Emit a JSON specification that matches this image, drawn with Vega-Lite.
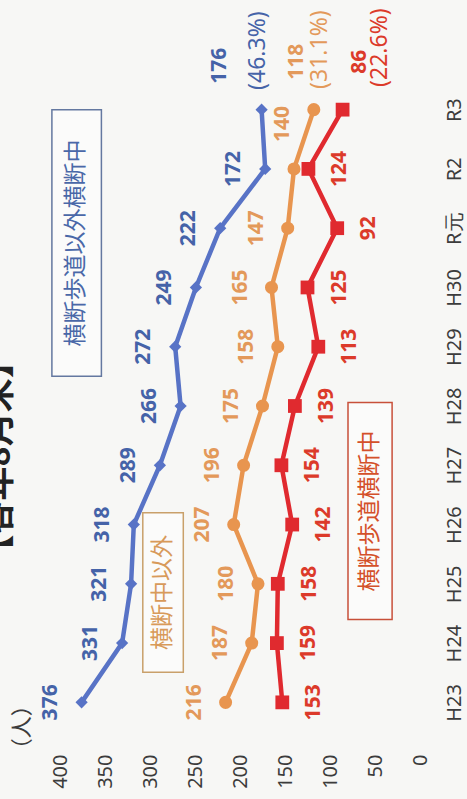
{
  "$schema": "https://vega.github.io/schema/vega-lite/v6.json",
  "width": 360,
  "height": 652,
  "autosize": {"type": "none"},
  "padding": {"left": 60, "top": 80, "right": 47, "bottom": 67},
  "background": "#f7f7f5",
  "config": {"view": {"stroke": null}, "font": "Noto Sans", "axis": {"labelFont": "Noto Sans"}},
  "datasets": {
    "counts": [
      {"year": "H23", "series": "横断歩道以外横断中", "value": 376},
      {"year": "H24", "series": "横断歩道以外横断中", "value": 331},
      {"year": "H25", "series": "横断歩道以外横断中", "value": 321},
      {"year": "H26", "series": "横断歩道以外横断中", "value": 318},
      {"year": "H27", "series": "横断歩道以外横断中", "value": 289},
      {"year": "H28", "series": "横断歩道以外横断中", "value": 266},
      {"year": "H29", "series": "横断歩道以外横断中", "value": 272},
      {"year": "H30", "series": "横断歩道以外横断中", "value": 249},
      {"year": "R元", "series": "横断歩道以外横断中", "value": 222},
      {"year": "R2", "series": "横断歩道以外横断中", "value": 172},
      {"year": "R3", "series": "横断歩道以外横断中", "value": 176, "share": "(46.3%)"},
      {"year": "H23", "series": "横断中以外", "value": 216},
      {"year": "H24", "series": "横断中以外", "value": 187},
      {"year": "H25", "series": "横断中以外", "value": 180},
      {"year": "H26", "series": "横断中以外", "value": 207},
      {"year": "H27", "series": "横断中以外", "value": 196},
      {"year": "H28", "series": "横断中以外", "value": 175},
      {"year": "H29", "series": "横断中以外", "value": 158},
      {"year": "H30", "series": "横断中以外", "value": 165},
      {"year": "R元", "series": "横断中以外", "value": 147},
      {"year": "R2", "series": "横断中以外", "value": 140},
      {"year": "R3", "series": "横断中以外", "value": 118, "share": "(31.1%)"},
      {"year": "H23", "series": "横断歩道横断中", "value": 153},
      {"year": "H24", "series": "横断歩道横断中", "value": 159},
      {"year": "H25", "series": "横断歩道横断中", "value": 158},
      {"year": "H26", "series": "横断歩道横断中", "value": 142},
      {"year": "H27", "series": "横断歩道横断中", "value": 154},
      {"year": "H28", "series": "横断歩道横断中", "value": 139},
      {"year": "H29", "series": "横断歩道横断中", "value": 113},
      {"year": "H30", "series": "横断歩道横断中", "value": 125},
      {"year": "R元", "series": "横断歩道横断中", "value": 92},
      {"year": "R2", "series": "横断歩道横断中", "value": 124},
      {"year": "R3", "series": "横断歩道横断中", "value": 86, "share": "(22.6%)"}
    ],
    "notes": [
      {"note": "横断歩道以外横断中", "series": "横断歩道以外横断中", "left": 409, "right": 354, "top": 10.0, "bottom": 5.5, "cx": 382, "cy": 7.75},
      {"note": "横断中以外", "series": "横断中以外", "left": 308, "right": 263, "top": 3.2, "bottom": 0.51, "cx": 285.5, "cy": 1.855},
      {"note": "横断歩道横断中", "series": "横断歩道横断中", "left": 80, "right": 31, "top": 5.06, "bottom": 1.4, "cx": 55.5, "cy": 3.23}
    ]
  },
  "layer": [
    {
      "data": {"name": "counts"},
      "encoding": {
        "y": {
          "field": "year", "type": "ordinal",
          "scale": {"type": "point", "padding": 0.5, "domain": ["R3", "R2", "R元", "H30", "H29", "H28", "H27", "H26", "H25", "H24", "H23"]},
          "axis": {"orient": "right", "title": null, "domain": false, "ticks": false, "grid": false, "labelAngle": 270, "labelAlign": "center", "labelBaseline": "middle", "labelPadding": 34, "labelFontSize": 20, "labelColor": "#3c3c3c"}
        },
        "x": {
          "field": "value", "type": "quantitative",
          "scale": {"domain": [0, 400], "reverse": true, "nice": false},
          "axis": {"title": null, "values": [0, 50, 100, 150, 200, 250, 300, 350, 400], "domain": false, "ticks": false, "grid": false, "labelAngle": 270, "labelAlign": "right", "labelBaseline": "middle", "labelPadding": 22, "labelFlush": false, "labelOverlap": false, "labelFontSize": 20, "labelColor": "#3c3c3c"}
        }
      },
      "layer": [
        {
          "mark": {"type": "line", "strokeWidth": 4.5},
          "encoding": {
            "color": {"field": "series", "type": "nominal", "legend": null,
              "scale": {"domain": ["横断歩道以外横断中", "横断中以外", "横断歩道横断中"], "range": ["#5873c6", "#e8954f", "#e02a2f"]}},
            "detail": {"field": "series"}
          }
        },
        {
          "mark": {"type": "point", "filled": true, "opacity": 1},
          "encoding": {
            "color": {"field": "series", "type": "nominal", "legend": null},
            "shape": {"field": "series", "type": "nominal", "legend": null,
              "scale": {"domain": ["横断歩道以外横断中", "横断中以外", "横断歩道横断中"], "range": ["diamond", "circle", "square"]}},
            "size": {"field": "series", "type": "nominal", "legend": null,
              "scale": {"domain": ["横断歩道以外横断中", "横断中以外", "横断歩道横断中"], "range": [150, 190, 200]}}
          }
        },
        {
          "transform": [{"filter": "datum.series === '横断歩道以外横断中' && datum.year !== 'R3'"}],
          "mark": {"type": "text", "angle": 270, "align": "center", "baseline": "middle", "dy": -31, "fontSize": 21, "fontWeight": "bold", "color": "#4563a8"},
          "encoding": {"text": {"field": "value"}}
        },
        {
          "transform": [{"filter": "datum.series === '横断中以外' && datum.year !== 'R3' && datum.year !== 'R2'"}],
          "mark": {"type": "text", "angle": 270, "align": "center", "baseline": "middle", "dy": -31, "fontSize": 21, "fontWeight": "bold", "color": "#e3995a"},
          "encoding": {"text": {"field": "value"}}
        },
        {
          "transform": [{"filter": "datum.series === '横断中以外' && datum.year === 'R2'"}],
          "mark": {"type": "text", "angle": 270, "align": "center", "baseline": "middle", "dx": 45, "dy": -11, "fontSize": 21, "fontWeight": "bold", "color": "#e3995a"},
          "encoding": {"text": {"field": "value"}}
        },
        {
          "transform": [{"filter": "datum.series === '横断歩道横断中' && datum.year !== 'R3'"}],
          "mark": {"type": "text", "angle": 270, "align": "center", "baseline": "middle", "dy": 32, "fontSize": 21, "fontWeight": "bold", "color": "#dc3a2a"},
          "encoding": {"text": {"field": "value"}}
        },
        {
          "transform": [{"filter": "datum.series === '横断歩道以外横断中' && datum.year === 'R3'"}],
          "mark": {"type": "text", "angle": 270, "align": "center", "baseline": "middle", "dx": 44, "dy": -42, "fontSize": 21, "fontWeight": "bold", "color": "#4563a8"},
          "encoding": {"text": {"field": "value"}}
        },
        {
          "transform": [{"filter": "datum.series === '横断歩道以外横断中' && datum.year === 'R3'"}],
          "mark": {"type": "text", "angle": 270, "align": "center", "baseline": "middle", "dx": 59, "dy": -4, "fontSize": 23, "color": "#4563a8"},
          "encoding": {"text": {"field": "share"}}
        },
        {
          "transform": [{"filter": "datum.series === '横断中以外' && datum.year === 'R3'"}],
          "mark": {"type": "text", "angle": 270, "align": "center", "baseline": "middle", "dx": 48, "dy": -17, "fontSize": 21, "fontWeight": "bold", "color": "#e3995a"},
          "encoding": {"text": {"field": "value"}}
        },
        {
          "transform": [{"filter": "datum.series === '横断中以外' && datum.year === 'R3'"}],
          "mark": {"type": "text", "angle": 270, "align": "center", "baseline": "middle", "dx": 60, "dy": 6, "fontSize": 23, "color": "#e3995a"},
          "encoding": {"text": {"field": "share"}}
        },
        {
          "transform": [{"filter": "datum.series === '横断歩道横断中' && datum.year === 'R3'"}],
          "mark": {"type": "text", "angle": 270, "align": "center", "baseline": "middle", "dx": 48, "dy": 17, "fontSize": 21, "fontWeight": "bold", "color": "#dc3a2a"},
          "encoding": {"text": {"field": "value"}}
        },
        {
          "transform": [{"filter": "datum.series === '横断歩道横断中' && datum.year === 'R3'"}],
          "mark": {"type": "text", "angle": 270, "align": "center", "baseline": "middle", "dx": 62, "dy": 37, "fontSize": 23, "color": "#dc3a2a"},
          "encoding": {"text": {"field": "share"}}
        }
      ]
    },
    {
      "data": {"name": "notes"},
      "layer": [
        {
          "mark": {"type": "rect", "fill": "#fbfbfa", "strokeWidth": 1.5},
          "encoding": {
            "x": {"field": "left", "type": "quantitative", "scale": {"domain": [0, 400], "reverse": true, "nice": false}},
            "x2": {"field": "right"},
            "y": {"field": "top", "type": "quantitative", "scale": {"domain": [-0.5, 10.5], "nice": false, "zero": false}, "axis": null},
            "y2": {"field": "bottom"},
            "stroke": {"field": "series", "type": "nominal", "legend": null,
              "scale": {"domain": ["横断歩道以外横断中", "横断中以外", "横断歩道横断中"], "range": ["#6478a0", "#c9a06a", "#c8503a"]}}
          }
        },
        {
          "mark": {"type": "text", "angle": 270, "align": "center", "baseline": "middle", "fontSize": 23, "font": "Noto Sans CJK JP"},
          "encoding": {
            "x": {"field": "cx", "type": "quantitative"},
            "y": {"field": "cy", "type": "quantitative"},
            "text": {"field": "note"},
            "fill": {"field": "series", "type": "nominal", "legend": null,
              "scale": {"domain": ["横断歩道以外横断中", "横断中以外", "横断歩道横断中"], "range": ["#4a68a8", "#d89a5a", "#d4502a"]}}
          }
        },
        {
          "data": {"values": [{"label": "（人）", "at": 442, "pos": -0.42}]},
          "mark": {"type": "text", "angle": 270, "align": "center", "baseline": "middle", "fontSize": 22, "color": "#3c3c3c", "font": "Noto Sans CJK JP"},
          "encoding": {
            "x": {"field": "at", "type": "quantitative"},
            "y": {"field": "pos", "type": "quantitative"},
            "text": {"field": "label"}
          }
        },
        {
          "data": {"values": [{"label": "【各年8月末】", "at": 467, "pos": 4.15}]},
          "mark": {"type": "text", "angle": 270, "align": "center", "baseline": "middle", "fontSize": 34, "fontWeight": "bold", "color": "#222222", "font": "Noto Sans CJK JP"},
          "encoding": {
            "x": {"field": "at", "type": "quantitative"},
            "y": {"field": "pos", "type": "quantitative"},
            "text": {"field": "label"}
          }
        }
      ]
    }
  ],
  "resolve": {"scale": {"y": "independent"}}
}
